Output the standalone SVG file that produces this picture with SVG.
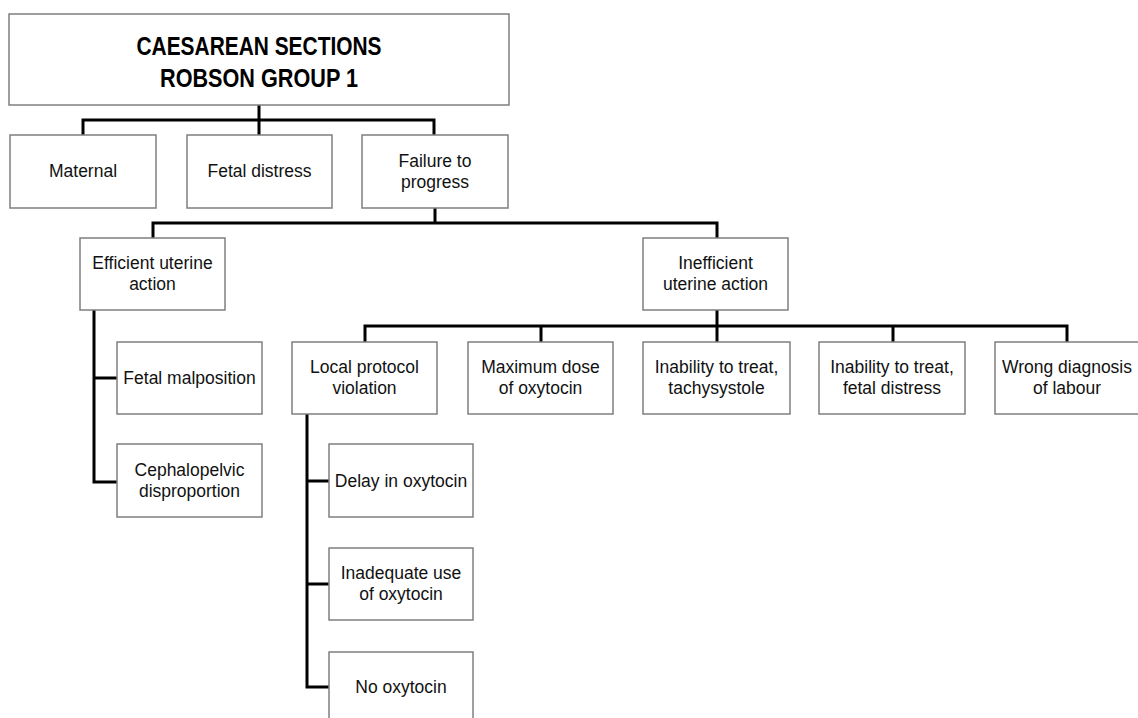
<svg xmlns="http://www.w3.org/2000/svg" width="1138" height="718" viewBox="0 0 1138 718">
<style>
.box{fill:#fff;stroke:#7f7f7f;stroke-width:1.5}
.t{font-family:"Liberation Sans",Arial,sans-serif;font-size:17.5px;fill:#111;text-anchor:middle}
.title{font-family:"Liberation Sans",Arial,sans-serif;font-size:26px;font-weight:bold;fill:#000;text-anchor:middle}
.c{fill:none;stroke:#000;stroke-width:3}
</style>
<rect width="1138" height="718" fill="#fff"/>
<g id="connectors">
<path class="c" d="M259,105 V120 M83,135 V120 H434 V135 M259,120 V135"/>
<path class="c" d="M435,208 V223 M153,238 V223 H717 V238"/>
<path class="c" d="M94,310 V482 H117 M94,378 H117"/>
<path class="c" d="M717,310 V326 M365,342 V326 H1067 V342 M541,326 V342 M717,326 V342 M893,326 V342"/>
<path class="c" d="M307,414 V687 H329 M307,481 H329 M307,584 H329"/>
</g>
<g id="title"><rect class="box" x="9" y="14" width="500" height="91"/>
<text class="title" x="259" y="55" textLength="245" lengthAdjust="spacingAndGlyphs">CAESAREAN SECTIONS</text>
<text class="title" x="259" y="87" textLength="198" lengthAdjust="spacingAndGlyphs">ROBSON GROUP 1</text></g>
<g id="maternal"><rect class="box" x="10" y="135" width="146" height="73"/><text class="t" x="83" y="177">Maternal</text></g>
<g id="fetal-distress"><rect class="box" x="187" y="135" width="145" height="73"/><text class="t" x="259.5" y="177">Fetal distress</text></g>
<g id="failure"><rect class="box" x="362" y="135" width="146" height="73"/><text class="t" x="435" y="167">Failure to</text><text class="t" x="435" y="188">progress</text></g>
<g id="efficient"><rect class="box" x="80" y="238" width="145" height="72"/><text class="t" x="152.5" y="269">Efficient uterine</text><text class="t" x="152.5" y="290">action</text></g>
<g id="inefficient"><rect class="box" x="643" y="238" width="145" height="72"/><text class="t" x="715.5" y="269">Inefficient</text><text class="t" x="715.5" y="290">uterine action</text></g>
<g id="malposition"><rect class="box" x="117" y="342" width="145" height="72"/><text class="t" x="189.5" y="384">Fetal malposition</text></g>
<g id="cephalopelvic"><rect class="box" x="117" y="444" width="145" height="73"/><text class="t" x="189.5" y="476">Cephalopelvic</text><text class="t" x="189.5" y="497">disproportion</text></g>
<g id="local-protocol"><rect class="box" x="292" y="342" width="145" height="72"/><text class="t" x="364.5" y="373">Local protocol</text><text class="t" x="364.5" y="394">violation</text></g>
<g id="max-dose"><rect class="box" x="468" y="342" width="145" height="72"/><text class="t" x="540.5" y="373">Maximum dose</text><text class="t" x="540.5" y="394">of oxytocin</text></g>
<g id="tachysystole"><rect class="box" x="643" y="342" width="147" height="72"/><text class="t" x="716.5" y="373">Inability to treat,</text><text class="t" x="716.5" y="394">tachysystole</text></g>
<g id="inability-fetal"><rect class="box" x="819" y="342" width="146" height="72"/><text class="t" x="892" y="373">Inability to treat,</text><text class="t" x="892" y="394">fetal distress</text></g>
<g id="wrong-diagnosis"><rect class="box" x="995" y="342" width="145" height="72"/><text class="t" x="1067" y="373">Wrong diagnosis</text><text class="t" x="1067" y="394">of labour</text></g>
<g id="delay"><rect class="box" x="329" y="444" width="144" height="73"/><text class="t" x="401" y="487">Delay in oxytocin</text></g>
<g id="inadequate"><rect class="box" x="329" y="548" width="144" height="72"/><text class="t" x="401" y="579">Inadequate use</text><text class="t" x="401" y="600">of oxytocin</text></g>
<g id="no-oxytocin"><rect class="box" x="329" y="652" width="144" height="72"/><text class="t" x="401" y="693">No oxytocin</text></g>
</svg>
